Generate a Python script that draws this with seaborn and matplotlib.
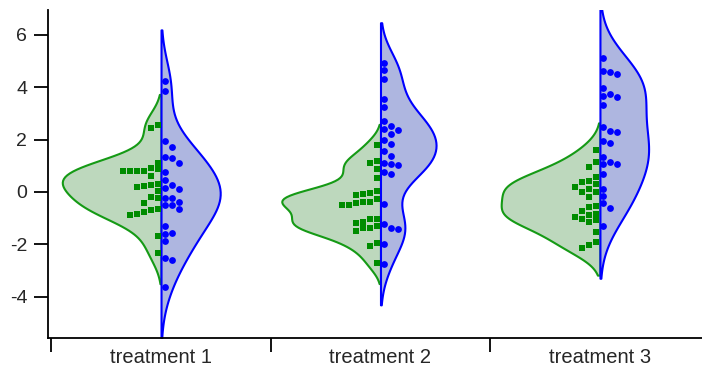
import matplotlib
matplotlib.use("Agg")
import matplotlib.pyplot as plt
import numpy as np
import pandas as pd
import seaborn as sns

# ---------------------------------------------------------------------------
# data (left half = green squares, right half = blue dots)
# ---------------------------------------------------------------------------
treatments = ["treatment 1", "treatment 2", "treatment 3"]

green_t1 = [2.56, 2.43, 1.12, 0.81, 0.81, 0.81, 0.81, 0.90, 0.86, 0.62,
            0.23, 0.26, 0.30, 0.20, 0.04, -0.25, -0.20, -0.41, -0.66, -0.85,
            -0.76, -0.70, -0.89, -1.70, -2.34]
blue_t1 = [4.24, 3.85, 1.93, 1.71, 1.32, 1.29, 1.11, 0.75, 0.46, 0.13,
           0.15, 0.26, -0.23, -0.23, -0.38, -0.50, -0.50, -0.65, -1.32, -1.60,
           -1.55, -1.88, -2.60, -2.53, -3.64]

green_t2 = [1.78, 1.19, 1.10, 0.89, 0.55, -0.08, 0.04, -0.11, -0.05, -0.28,
            -0.37, -0.51, -0.43, -0.39, -0.51, -1.04, -1.03, -1.20, -1.13, -1.39,
            -1.36, -1.29, -1.49, -1.96, -2.05, -2.70]
blue_t2 = [4.91, 4.66, 4.30, 3.54, 3.23, 2.72, 2.53, 2.37, 2.39, 2.23,
           2.00, 1.82, 1.55, 1.36, 1.02, 1.08, 1.11, 0.70, 0.76, -0.47,
           -1.42, -1.37, -1.21, -1.97, -2.76]

green_t3 = [1.60, 1.13, 0.94, 0.58, 0.42, 0.39, 0.29, 0.20, 0.01, -0.01,
            0.11, -0.18, -0.52, -0.58, -0.84, -1.03, -0.88, -1.09, -0.73, -0.94,
            -1.16, -1.54, -1.92, -2.02, -2.14]
blue_t3 = [5.12, 4.49, 4.57, 4.63, 3.96, 3.64, 3.68, 3.73, 3.32, 2.30,
           2.33, 2.49, 1.88, 1.95, 1.32, 1.06, 1.06, 1.13, 0.68, 0.10,
           -0.15, -0.61, -0.41, -1.32]

green_groups = [green_t1, green_t2, green_t3]
blue_groups = [blue_t1, blue_t2, blue_t3]

# kde smoothing per treatment (the middle one is visibly less smoothed)
bw_adjust = [1.0, 0.72, 1.0]

GREEN_FILL = "#bdd8bd"
GREEN_EDGE = "#159a15"
GREEN_PT = "#008c00"
BLUE_FILL = "#aeb6e0"
BLUE_EDGE = "#0000ff"
BLUE_PT = "#0000ff"

XLIM = (-0.515, 2.465)
YLIM = (-5.58, 6.95)


def one_sided_swarm(values, ypx, base=3.5, step=7.0, min_dy=6.5):
    """Column offsets (px) so points don't overlap, all on one side."""
    order = np.argsort(values)[::-1]
    placed = []  # (y_px, column)
    out = np.zeros(len(values))
    for i in order:
        y = values[i] * ypx
        col = 0
        while any(c == col and abs(py - y) < min_dy for py, c in placed):
            col += 1
        placed.append((y, col))
        out[i] = base + col * step
    return out


def main() -> None:
    rows = []
    for t, g, b in zip(treatments, green_groups, blue_groups):
        rows += [(t, "left", v) for v in g]
        rows += [(t, "right", v) for v in b]
    df = pd.DataFrame(rows, columns=["treatment", "side", "value"])

    sns.set_style("white")
    plt.rcParams["font.family"] = ["Liberation Sans", "DejaVu Sans"]
    plt.rcParams["axes.unicode_minus"] = False

    fig = plt.figure(figsize=(7.02, 3.69), dpi=100)
    ax = fig.add_axes([48 / 702, 1 - 338 / 369, 1 - 48 / 702, (338 - 10) / 369])

    for t, bw in zip(treatments, bw_adjust):
        sns.violinplot(data=df[df["treatment"] == t], x="treatment", y="value",
                       hue="side", order=treatments, hue_order=["left", "right"],
                       split=True, inner=None, gap=0, width=0.9,
                       density_norm="area", common_norm=True, cut=2,
                       bw_adjust=bw,
                       palette={"left": GREEN_FILL, "right": BLUE_FILL},
                       saturation=1, linewidth=1.5, legend=False, ax=ax)

    for coll in ax.collections:
        verts = coll.get_paths()[0].vertices
        mx = verts[:, 0].mean()
        if mx < np.round(mx):
            coll.set_edgecolor(GREEN_EDGE)
        else:
            coll.set_edgecolor(BLUE_EDGE)
            coll.set_zorder(coll.get_zorder() + 0.1)

    ax.set_xlim(*XLIM)
    ax.set_ylim(*YLIM)

    xpx = ax.bbox.width / (XLIM[1] - XLIM[0])
    ypx = ax.bbox.height / (YLIM[1] - YLIM[0])
    for i, (g, b) in enumerate(zip(green_groups, blue_groups)):
        g = np.asarray(g)
        b = np.asarray(b)
        ax.scatter(i - one_sided_swarm(g, ypx) / xpx, g, marker="s", s=20,
                   color=GREEN_PT, linewidths=0, zorder=5)
        ax.scatter(i + one_sided_swarm(b, ypx) / xpx, b, marker="o", s=24,
                   color=BLUE_PT, linewidths=0, zorder=5)

    sns.despine(ax=ax)
    for side in ["left", "bottom"]:
        ax.spines[side].set_linewidth(1.3)
        ax.spines[side].set_color("black")

    ax.set_yticks([-4, -2, 0, 2, 4, 6])
    ax.set_xticks([-0.5, 0.5, 1.5])
    ax.set_xticklabels([])
    ax.set_xticks([0, 1, 2], minor=True)
    ax.set_xticklabels(treatments, minor=True)
    ax.tick_params(axis="x", which="major", direction="out", length=10,
                   width=1.3, color="black", bottom=True)
    ax.tick_params(axis="x", which="minor", length=0, pad=7, labelsize=14.5)
    ax.tick_params(axis="y", direction="out", length=10, width=1.3,
                   color="black", left=True, pad=5, labelsize=14)
    ax.set_xlabel("")
    ax.set_ylabel("")

    fig.savefig("out.png", dpi=100)


if __name__ == "__main__":
    main()
